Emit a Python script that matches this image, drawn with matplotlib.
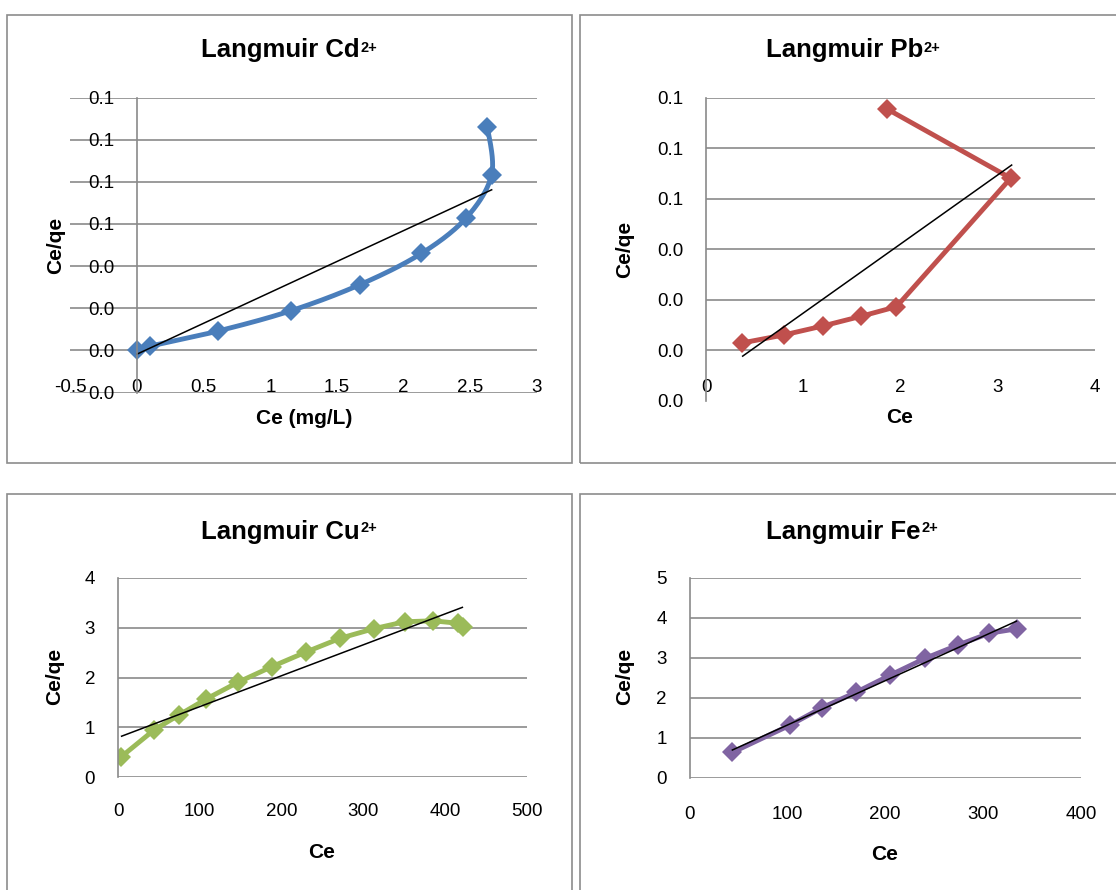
import numpy as np
import matplotlib.pyplot as plt
from matplotlib.patches import Rectangle

plt.rcParams['font.family'] = ['Liberation Sans', 'DejaVu Sans']

# Cd2+  (Ce in mg/L)
cd_ce = [0.0, 0.10, 0.61, 1.155, 1.673, 2.133, 2.471, 2.66, 2.628]
cd_ceqe = [0.0200, 0.0210, 0.0246, 0.0294, 0.0356, 0.0430, 0.0515, 0.0617, 0.0731]
cd_fit_x = [0.0, 2.66]
cd_fit_y = [0.0191, 0.0581]
cd_xticks = [-0.5, 0, 0.5, 1, 1.5, 2, 2.5, 3]
cd_xlabels = ['-0.5', '0', '0.5', '1', '1.5', '2', '2.5', '3']
cd_yticks = [0.01, 0.02, 0.03, 0.04, 0.05, 0.06, 0.07, 0.08]
cd_ylabels = ['0.0', '0.0', '0.0', '0.0', '0.1', '0.1', '0.1', '0.1']

# Pb2+
pb_ce = [0.367, 0.80, 1.206, 1.594, 1.958, 3.133, 1.864]
pb_ceqe = [0.0214, 0.0230, 0.0248, 0.0267, 0.0286, 0.0541, 0.0678]
pb_fit_x = [0.377, 3.143]
pb_fit_y = [0.0188, 0.0567]
pb_xticks = [0, 1, 2, 3, 4]
pb_yticks = [0.01, 0.02, 0.03, 0.04, 0.05, 0.06, 0.07]
pb_ylabels = ['0.0', '0.0', '0.0', '0.0', '0.1', '0.1', '0.1']

# Cu2+
cu_ce = [4.2, 44.4, 74.9, 108.1, 146.1, 188.4, 229.5, 271.9, 312.5, 350.4, 385.0, 415.6, 421.8]
cu_ceqe = [0.41, 0.95, 1.25, 1.57, 1.90, 2.22, 2.51, 2.79, 2.98, 3.12, 3.14, 3.09, 3.02]
cu_fit_x = [4.4, 421.0]
cu_fit_y = [0.82, 3.41]
cu_xticks = [0, 100, 200, 300, 400, 500]
cu_yticks = [0, 1, 2, 3, 4]

# Fe2+
fe_ce = [43.8, 102.6, 135.6, 169.9, 204.9, 240.6, 273.9, 306.5, 334.5]
fe_ceqe = [0.64, 1.32, 1.76, 2.14, 2.57, 2.99, 3.32, 3.62, 3.73]
fe_fit_x = [43.8, 334.0]
fe_fit_y = [0.70, 3.92]
fe_xticks = [0, 100, 200, 300, 400]
fe_yticks = [0, 1, 2, 3, 4, 5]

W, H = 1116, 890
grid_col = '#8a8a8a'


def smooth(x, y, n=24):
    # catmull-rom style curve through the points (like Excel "smoothed line")
    x = np.asarray(x, float)
    y = np.asarray(y, float)
    px = np.concatenate([[x[0]], x, [x[-1]]])
    py = np.concatenate([[y[0]], y, [y[-1]]])
    t = np.linspace(0, 1, n)[:, None]
    xs, ys = [], []
    for i in range(1, len(px) - 2):
        for p, out in ((px, xs), (py, ys)):
            p0, p1, p2, p3 = p[i - 1], p[i], p[i + 1], p[i + 2]
            c = 0.5 * ((2 * p1) + (-p0 + p2) * t + (2 * p0 - 5 * p1 + 4 * p2 - p3) * t ** 2
                       + (-p0 + 3 * p1 - 3 * p2 + p3) * t ** 3)
            out.extend(c.ravel())
    return xs, ys


def make_axes(fig, left, right, top, bottom):
    return fig.add_axes([left / W, 1 - bottom / H, (right - left) / W, (bottom - top) / H])


def style(ax, xpad, ypad, ycross=None):
    for s in ['top', 'right', 'bottom']:
        ax.spines[s].set_visible(False)
    ax.spines['left'].set_color(grid_col)
    ax.spines['left'].set_linewidth(1.2)
    if ycross is not None:
        ax.spines['left'].set_position(('data', ycross))
    ax.yaxis.grid(True, color=grid_col, linewidth=1.2)
    ax.set_axisbelow(True)
    ax.tick_params(axis='x', length=0, pad=xpad, labelsize=13.5)
    ax.tick_params(axis='y', length=0, pad=ypad, labelsize=13.5)


def title(x_end, y, metal):
    # main text ends at x_end, the "2+" superscript follows it
    fig.text(x_end / W, 1 - y / H, 'Langmuir ' + metal, fontsize=18.5,
             fontweight='bold', ha='right', va='baseline')
    fig.text((x_end + 0.5) / W, 1 - (y - 6) / H, '2+', fontsize=10.5,
             fontweight='bold', ha='left', va='baseline')


fig = plt.figure(figsize=(W / 100, H / 100), dpi=100)

# panel frames
for (x0, y0, x1, y1) in [(7, 15, 572, 463), (580, 15, 1125, 463),
                         (7, 494, 572, 900), (580, 494, 1125, 900)]:
    fig.patches.append(Rectangle((x0 / W, 1 - y1 / H), (x1 - x0) / W, (y1 - y0) / H,
                                 transform=fig.transFigure, fill=False,
                                 edgecolor='#8c8c8c', linewidth=1.2))

mk = dict(marker='D', markersize=10.5, markeredgewidth=0)
lw = 3.5

# --- Cd ---
ax = make_axes(fig, 70.3, 537, 97.5, 392.5)
sx, sy = smooth(cd_ce, cd_ceqe)
ax.plot(sx, sy, color='#4a7ebb', linewidth=lw, solid_capstyle='round')
ax.plot(cd_ce, cd_ceqe, linestyle='none', color='#4a7ebb', **mk)
ax.plot(cd_fit_x, cd_fit_y, color='black', linewidth=1.1)
ax.set_xlim(-0.5, 3)
ax.set_ylim(0.01, 0.08)
ax.set_xticks(cd_xticks)
ax.set_xticklabels(cd_xlabels)
ax.set_yticks(cd_yticks)
ax.set_yticklabels(cd_ylabels)
style(ax, -9.7, 16.5, ycross=0)
title(360, 57.5, 'Cd')
fig.text(304 / W, 1 - 419 / H, 'Ce (mg/L)', fontsize=15, fontweight='bold',
         ha='center', va='center')
fig.text(56 / W, 1 - 245 / H, 'Ce/qe', fontsize=15, fontweight='bold',
         ha='center', va='center', rotation=90)

# --- Pb ---
ax = make_axes(fig, 706, 1095, 98, 400.5)
ax.plot(pb_ce, pb_ceqe, color='#c0504d', linewidth=lw, **mk)
ax.plot(pb_fit_x, pb_fit_y, color='black', linewidth=1.1)
ax.set_xlim(0, 4)
ax.set_ylim(0.01, 0.07)
ax.set_xticks(pb_xticks)
ax.set_yticks(pb_yticks)
ax.set_yticklabels(pb_ylabels)
style(ax, -15.8, 16.5)
title(923, 57.5, 'Pb')
fig.text(900 / W, 1 - 418 / H, 'Ce', fontsize=15, fontweight='bold',
         ha='center', va='center')
fig.text(625 / W, 1 - 249 / H, 'Ce/qe', fontsize=15, fontweight='bold',
         ha='center', va='center', rotation=90)

# --- Cu ---
ax = make_axes(fig, 118, 527, 578, 777)
ax.plot(cu_ce, cu_ceqe, color='#9bbb59', linewidth=lw, **mk)
ax.plot(cu_fit_x, cu_fit_y, color='black', linewidth=1.1)
ax.set_xlim(0, 500)
ax.set_ylim(0, 4)
ax.set_xticks(cu_xticks)
ax.set_yticks(cu_yticks)
style(ax, 19, 16.5)
title(360, 538.5, 'Cu')
fig.text(322 / W, 1 - 853 / H, 'Ce', fontsize=15, fontweight='bold',
         ha='center', va='center')
fig.text(54.5 / W, 1 - 676.5 / H, 'Ce/qe', fontsize=15, fontweight='bold',
         ha='center', va='center', rotation=90)

# --- Fe ---
ax = make_axes(fig, 689.5, 1081, 578, 778)
ax.plot(fe_ce, fe_ceqe, color='#8064a2', linewidth=lw, **mk)
ax.plot(fe_fit_x, fe_fit_y, color='black', linewidth=1.1)
ax.set_xlim(0, 400)
ax.set_ylim(0, 5)
ax.set_xticks(fe_xticks)
ax.set_yticks(fe_yticks)
style(ax, 20, 16.5)
title(921, 538.5, 'Fe')
fig.text(885 / W, 1 - 854 / H, 'Ce', fontsize=15, fontweight='bold',
         ha='center', va='center')
fig.text(625 / W, 1 - 676.5 / H, 'Ce/qe', fontsize=15, fontweight='bold',
         ha='center', va='center', rotation=90)

plt.savefig('out.png', dpi=100)
